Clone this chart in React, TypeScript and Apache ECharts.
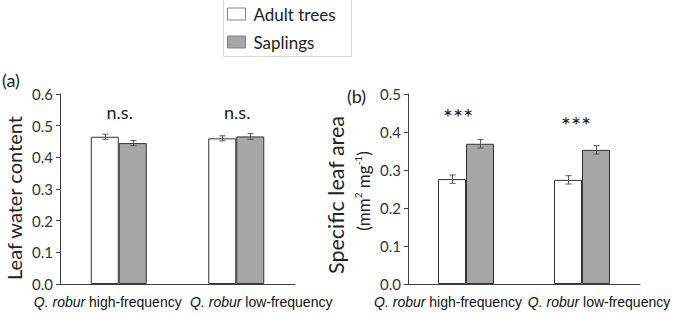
import React, { useEffect, useRef } from 'react';
import * as echarts from 'echarts';

const categories = ['Q. robur high-frequency', 'Q. robur low-frequency'];
const seriesNames = ['Adult trees', 'Saplings'];
const lwcAdult = [0.465, 0.46];
const lwcAdultErr = [0.008, 0.008];
const lwcSapling = [0.445, 0.466];
const lwcSaplingErr = [0.008, 0.009];
const slaAdult = [0.276, 0.274];
const slaAdultErr = [0.011, 0.011];
const slaSapling = [0.369, 0.353];
const slaSaplingErr = [0.011, 0.011];
const lwcSig = ['n.s.', 'n.s.'];
const lwcSigY = [0.543, 0.543];
const slaSig = ['***', '***'];
const slaSigY = [0.44, 0.42];
const lwcAxisRange = [0, 0.6, 0.1];
const slaAxisRange = [0, 0.5, 0.1];
const panelLabels = ['(a)', '(b)'];
const lwcTitle = 'Leaf water content';
const slaTitle = 'Specific leaf area';

const CAL = 'Lato, "Open Sans", sans-serif';
const ARI = '"Liberation Sans", Arial, sans-serif';
const AXIS_COLOR = '#404040';
const ADULT = '#ffffff';
const SAPLING = '#a6a6a6';
const BAR_W = 28;

function makeLabelFormatter(spacers: number[][]) {
  return (value: string, index: number) => {
    const rest = value.replace('Q. robur', '');
    const [l, r] = spacers[index] || [0, 0];
    return (l ? '{s' + index + 'l| }' : '') + '{i|Q. robur}{n|' + rest + '}' + (r ? '{s' + index + 'r| }' : '');
  };
}

function richFor(spacers: number[][]) {
  const rich: any = {
    i: { fontStyle: 'italic', fontFamily: ARI, fontSize: 14, color: '#111' },
    n: { fontFamily: ARI, fontSize: 14, color: '#111' },
  };
  spacers.forEach(([l, r], idx) => {
    rich['s' + idx + 'l'] = { width: l, fontSize: 14 };
    rich['s' + idx + 'r'] = { width: r, fontSize: 14 };
  });
  return rich;
}

function errorSeries(name: string, idx: number, values: number[], errs: number[], side: number) {
  return {
    type: 'custom',
    name: name + '-err',
    xAxisIndex: idx,
    yAxisIndex: idx,
    z: 5,
    encode: { x: 0, y: 1 },
    data: values.map((v, i) => [i, v, errs[i], side]),
    renderItem: (params: any, api: any) => {
      const c = api.value(0);
      const v = api.value(1);
      const e = api.value(2);
      const s = api.value(3);
      const top = api.coord([c, v + e]);
      const bot = api.coord([c, v - e]);
      const x = Math.round(top[0] + (s * BAR_W) / 2) + 0.5;
      const st = { stroke: '#555', lineWidth: 1 };
      return {
        type: 'group',
        children: [
          { type: 'line', shape: { x1: x, y1: top[1], x2: x, y2: bot[1] }, style: st },
          { type: 'line', shape: { x1: x - 3, y1: top[1], x2: x + 3, y2: top[1] }, style: st },
          { type: 'line', shape: { x1: x - 3, y1: bot[1], x2: x + 3, y2: bot[1] }, style: st },
        ],
      };
    },
  };
}

function sigSeries(idx: number, labels: string[], ys: number[], offsets: number[], fontSize: number) {
  const labelStyle = {
    show: true,
    position: 'inside',
    fontFamily: CAL,
    fontSize,
    color: '#1a1a1a',
  };
  return {
    type: 'scatter',
    name: 'sig' + idx,
    xAxisIndex: idx,
    yAxisIndex: idx,
    symbolSize: 1,
    itemStyle: { color: '#ffffff', opacity: 1 },
    z: 6,
    data: ys.map((y, i) => ({
      value: [i, y],
      label: { ...labelStyle, offset: [offsets[i], 0], formatter: labels[i] },
    })),
    label: labelStyle,
  };
}

function barSeries(name: string, idx: number, values: number[], color: string) {
  return {
    type: 'bar',
    name,
    xAxisIndex: idx,
    yAxisIndex: idx,
    barWidth: BAR_W,
    barGap: '0%',
    data: values,
    itemStyle: { color, borderColor: '#333', borderWidth: 1 },
  };
}

const leftSpacers = [[0, 22], [50, 0]];
const rightSpacers = [[0, 36], [34, 0]];

export default function App() {
  const ref = useRef<HTMLDivElement>(null);
  useEffect(() => {
    if (!ref.current) return;
    const chart = echarts.init(ref.current, undefined, { renderer: 'svg' });
    const yAxisCommon = (range: number[]) => ({
      type: 'value',
      min: range[0],
      max: range[1],
      interval: range[2],
      axisLine: { show: true, lineStyle: { color: AXIS_COLOR, width: 1 } },
      axisTick: { show: true, inside: false, length: 4, lineStyle: { color: AXIS_COLOR } },
      splitLine: { show: false },
      axisLabel: {
        margin: 7,
        fontFamily: CAL,
        fontSize: 15,
        color: '#333',
        formatter: (v: number) => v.toFixed(1),
      },
    });
    const xAxisCommon = (spacers: number[][]) => ({
      type: 'category',
      data: categories,
      axisLine: { show: true, lineStyle: { color: AXIS_COLOR, width: 1 } },
      axisTick: { show: false },
      axisLabel: {
        interval: 0,
        margin: 11,
        formatter: makeLabelFormatter(spacers),
        rich: richFor(spacers),
      },
    });
    chart.setOption({
      animation: false,
      backgroundColor: '#ffffff',
      grid: [
        { left: 60, top: 94, width: 235, height: 190 },
        { left: 408, top: 94, width: 232, height: 190 },
      ],
      xAxis: [
        { ...xAxisCommon(leftSpacers), gridIndex: 0 },
        { ...xAxisCommon(rightSpacers), gridIndex: 1 },
      ],
      yAxis: [
        { ...yAxisCommon(lwcAxisRange), gridIndex: 0 },
        { ...yAxisCommon(slaAxisRange), gridIndex: 1 },
      ],
      legend: {
        data: seriesNames,
        orient: 'vertical',
        left: 227,
        top: 4,
        padding: 0,
        icon: 'rect',
        itemWidth: 18,
        itemHeight: 12,
        itemGap: 8,
        itemStyle: { borderColor: '#808080', borderWidth: 1 },
        textStyle: { fontFamily: CAL, fontSize: 17, color: '#222', lineHeight: 20, padding: [0, 0, 0, 3] },
      },
      graphic: [
        {
          type: 'rect',
          shape: { x: 223.5, y: -0.5, width: 128, height: 57 },
          style: { fill: 'none', stroke: '#d9d9d9', lineWidth: 1 },
        },
        {
          type: 'text',
          x: 2,
          y: 80,
          style: { text: panelLabels[0], fontFamily: CAL, fontSize: 18, fill: '#222', align: 'left', verticalAlign: 'middle' },
        },
        {
          type: 'text',
          x: 347,
          y: 96,
          style: { text: panelLabels[1], fontFamily: CAL, fontSize: 18, fill: '#222', align: 'left', verticalAlign: 'middle' },
        },
        {
          type: 'text',
          x: 14,
          y: 198,
          rotation: Math.PI / 2,
          style: { text: lwcTitle, fontFamily: CAL, fontSize: 20, fill: '#222', align: 'center', verticalAlign: 'middle' },
        },
        {
          type: 'text',
          x: 336,
          y: 195,
          rotation: Math.PI / 2,
          style: { text: slaTitle, fontFamily: CAL, fontSize: 21.5, fill: '#222', align: 'center', verticalAlign: 'middle' },
        },
        {
          type: 'text',
          x: 363,
          y: 191,
          rotation: Math.PI / 2,
          style: {
            text: '{u|(mm}{s|2}{u| mg}{s|-1}{u|)}',
            align: 'center',
            verticalAlign: 'middle',
            rich: {
              u: { fontFamily: CAL, fontSize: 17, fill: '#222', lineHeight: 20 },
              s: { fontFamily: CAL, fontSize: 10, fill: '#222', lineHeight: 11, verticalAlign: 'top' },
            },
          },
        },
      ],
      series: [
        barSeries(seriesNames[0], 0, lwcAdult, ADULT),
        barSeries(seriesNames[1], 0, lwcSapling, SAPLING),
        barSeries(seriesNames[0], 1, slaAdult, ADULT),
        barSeries(seriesNames[1], 1, slaSapling, SAPLING),
        errorSeries('a0', 0, lwcAdult, lwcAdultErr, -1),
        errorSeries('a1', 0, lwcSapling, lwcSaplingErr, 1),
        errorSeries('b0', 1, slaAdult, slaAdultErr, -1),
        errorSeries('b1', 1, slaSapling, slaSaplingErr, 1),
        sigSeries(0, lwcSig, lwcSigY, [1, 1], 18),
        sigSeries(1, slaSig, slaSigY, [-8, -6], 24),
      ],
    });
    return () => chart.dispose();
  }, []);
  return <div ref={ref} style={{ position: 'fixed', left: 0, top: 0, width: 675, height: 314 }} />;
}
